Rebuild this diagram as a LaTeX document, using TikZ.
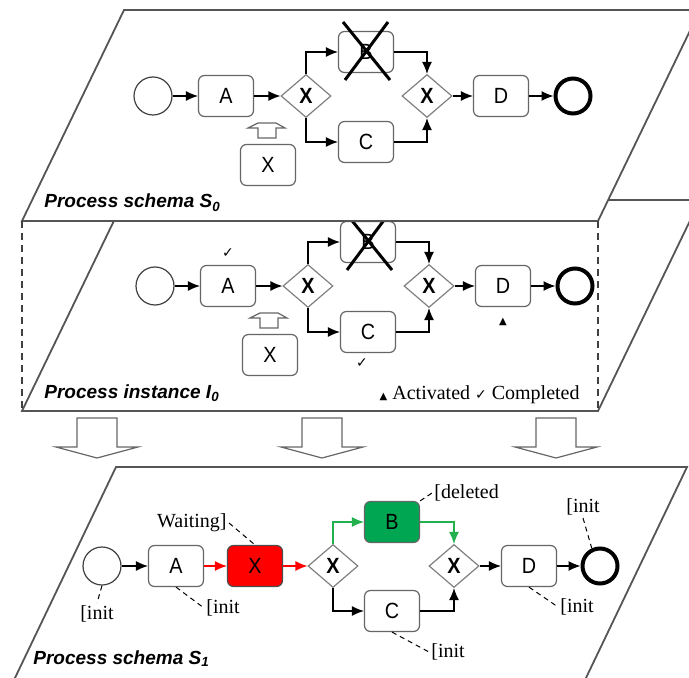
\documentclass[tikz,border=0pt]{standalone}
\usepackage{fontspec}
\setmainfont{Liberation Serif}
\setsansfont{Liberation Sans}
\newfontfamily\boxfont[FakeStretch=0.9]{Liberation Sans}
\newfontfamily\markfont{DejaVu Sans}
\usetikzlibrary{shapes.geometric,arrows.meta}
\definecolor{planegray}{HTML}{555555}
\definecolor{waitred}{HTML}{FF0000}
\definecolor{delgreen}{HTML}{00A651}
\definecolor{flowgreen}{HTML}{22B14C}
\newcommand{\actmark}{{\markfont\fontsize{5}{6}\selectfont ▲}}
\newcommand{\donemark}{{\markfont\fontsize{7}{8}\selectfont ✓}}

\begin{document}
\begin{tikzpicture}[
    x=0.5pt, y=-0.5pt,
    plane/.style={draw=planegray, line width=0.9pt, fill=white},
    task/.style={rectangle, rounded corners=3pt, draw=black!60, line width=0.6pt, fill=white, minimum width=27.5pt, minimum height=20.5pt, inner sep=0pt, font=\boxfont\fontsize{11}{13}\selectfont},
    gate/.style={diamond, draw=black!50, line width=0.6pt, fill=white, minimum width=25pt, minimum height=21.5pt, inner sep=0pt, font=\boxfont\bfseries\fontsize{11}{13}\selectfont},
    startev/.style={circle, draw=black!75, line width=0.6pt, fill=white, minimum size=19pt, inner sep=0pt},
    endev/.style={circle, draw=black, line width=2pt, fill=white, minimum size=17.5pt, inner sep=0pt},
    flow/.style={-{Latex[length=6pt,width=5pt]}, line width=0.6pt},
    link/.style={dash pattern=on 2.5pt off 2pt, line width=0.5pt},
    edge/.style={dash pattern=on 3.5pt off 2.5pt, line width=0.7pt, draw=black!75},
    tag/.style={font=\fontsize{10}{12}\selectfont, inner sep=1pt},
    title/.style={font=\sffamily\bfseries\itshape\fontsize{9.5}{11}\selectfont, anchor=base west, inner sep=0pt},
    hollow/.style={draw=black!60, line width=0.6pt, fill=white}
]
\useasboundingbox (0,0) rectangle (689,678);

% instance I0 first, schema S0 on top of it
\foreach \pre/\dx/\dy/\name in {i-/2/190/{Process instance I\textsubscript{0}}, s-/0/0/{Process schema S\textsubscript{0}}} {
  \draw[plane] (124,10+\dy) -- (700,10+\dy) -- (598,221+\dy) -- (22,221+\dy) -- cycle;
  \node[title] (\pre title) at (44,208+\dy) {\name};
  \begin{scope}[shift={(\dx,\dy)}, name prefix=\pre]
    \node[startev] (start) at (153,96) {};
    \node[task] (a) at (226,96) {A};
    \node[gate] (g1) at (306,96) {X};
    \node[task] (b) at (366,52) {B};
    \node[task] (c) at (366,142) {C};
    \node[gate] (g2) at (427,96) {X};
    \node[task] (d) at (501,96) {D};
    \node[endev] (stop) at (573,96) {};
    \node[task] (xn) at (268,165) {X};
    \draw[hollow] (258,138) -- (258,128) -- (248,128) -- (258,123) -- (276,123) -- (285,128) -- (276,128) -- (276,138) -- cycle;

    \draw[flow] (start) -- (a);
    \draw[flow] (a) -- (g1);
    \draw[flow] (g1.north) |- (b);
    \draw[flow] (g1.south) |- (c);
    \draw[flow] (b) -| (g2.north);
    \draw[flow] (c) -| (g2.south);
    \draw[flow] (g2) -- (d);
    \draw[flow] (d) -- (stop);
    \draw[line width=1.5pt] (343,22) -- (390,80) (388,22) -- (345,80);
  \end{scope}
}
\draw[edge] (22,221) -- (22,410);
\draw[edge] (598,221) -- (598,410);

% states of the instance
\node (doneA) at ([yshift=6pt]i-a.north) {\donemark};
\node (doneC) at ([xshift=-3pt, yshift=-5pt]i-c.south) {\donemark};
\node (actD) at ([yshift=-7.5pt]i-d.south) {\actmark};
\node[tag, anchor=base east] (legend) at (582,399) {\actmark\ Activated \donemark\ Completed};

% migration arrows
\foreach \ax in {97,322,556}
  \draw[hollow] (\ax-20,418) -- (\ax+20,418) -- (\ax+20,447) -- (\ax+41,447) -- (\ax,458) -- (\ax-41,447) -- (\ax-20,447) -- cycle;

% schema S1
\draw[plane] (14,680) -- (116,467) -- (687,467) -- (585,680);
\node[title] (s1title) at (33,664) {Process schema S\textsubscript{1}};

\node[startev] (start) at (102,566) {};
\node[task] (a) at (176,566) {A};
\node[task, fill=waitred, draw=black!70] (xw) at (255,566) {X};
\node[gate] (g1) at (333,566) {X};
\node[task, fill=delgreen] (b) at (392,522) {B};
\node[task] (c) at (392,611) {C};
\node[gate] (g2) at (454,566) {X};
\node[task] (d) at (529,566) {D};
\node[endev] (stop) at (600,566) {};

\draw[flow] (start) -- (a);
\draw[flow, waitred] (a) -- (xw);
\draw[flow, waitred] (xw) -- (g1);
\draw[flow, flowgreen] (g1.north) |- (b);
\draw[flow] (g1.south) |- (c);
\draw[flow, flowgreen] (b) -| (g2.north);
\draw[flow] (c) -| (g2.south);
\draw[flow] (g2) -- (d);
\draw[flow] (d) -- (stop);

\node[tag, anchor=east] (waitlbl) at (229,523) {Waiting]};
\node[tag, anchor=north] (initstart) at (97,603) {[init};
\node[tag, anchor=west] (inita) at (204,608) {[init};
\node[tag, anchor=west] (delb) at (432,493) {[deleted};
\node[tag, anchor=south] (initstop) at (583,518) {[init};
\node[tag, anchor=west] (initd) at (558,607) {[init};
\node[tag, anchor=west] (initc) at (429,652) {[init};

\draw[link] (waitlbl.east) -- (xw.north);
\draw[link] (start.south) -- (initstart.north);
\draw[link] (a.south) -- (inita.west);
\draw[link] (b.north east) -- (delb.west);
\draw[link] (initstop.south) -- (stop.115);
\draw[link] (d.south) -- (initd.west);
\draw[link] (c.south) -- (initc.west);

\end{tikzpicture}
\end{document}
